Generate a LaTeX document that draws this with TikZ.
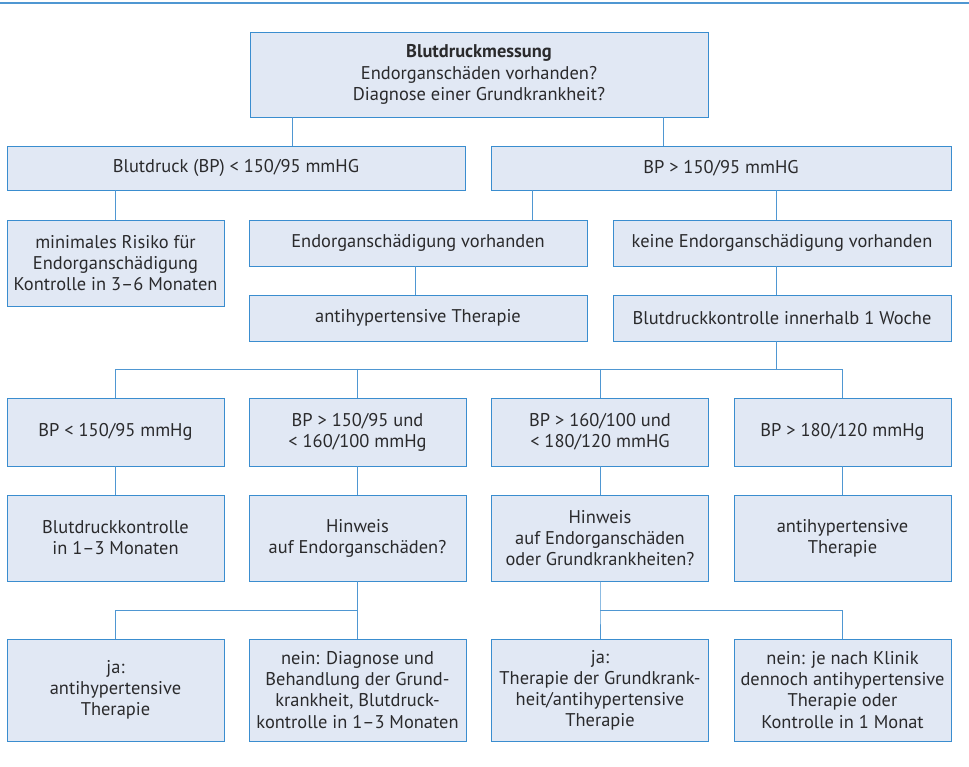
\documentclass[tikz,border=0pt]{standalone}
\usepackage{fontspec}
\setmainfont{PT Sans}
\definecolor{boxfill}{HTML}{E1E8F4}
\definecolor{boxline}{HTML}{3A8DCF}
\definecolor{linkline}{HTML}{4F97D2}
\definecolor{txt}{HTML}{2A2A2C}
\begin{document}
\begin{tikzpicture}[x=0.025cm, y=-0.025cm]
\tikzstyle{box}  = [rectangle, draw=boxline, fill=boxfill, line width=0.6pt, inner sep=0pt, align=center, text=txt, font=\fontsize{13.1}{15}\selectfont]
\tikzstyle{link} = [draw=linkline, line width=0.6pt]
\useasboundingbox (0,0) rectangle (969,767);
\draw[link, line width=0.8pt] (0,3) -- (969,3);
\node[box, minimum width=11.45cm, minimum height=2.125cm] at (479, 74.5) (0_s_0) {\textbf{Blutdruckmessung}\\Endorganschäden vorhanden?\\Diagnose einer Grundkrankheit?};
\node[box, minimum width=11.45cm, minimum height=1.1cm] at (236, 168) (1_s_0) {Blutdruck (BP) < 150/95 mmHG};
\node[box, minimum width=11.5cm, minimum height=1.1cm] at (721, 168) (1_s_1) {BP > 150/95 mmHG};
\node[box, minimum width=5.425cm, minimum height=2.15cm] at (115.5, 263) (2_s_0) {minimales Risiko für\\Endorganschädigung\\Kontrolle in 3–6 Monaten};
\node[box, minimum width=8.45cm, minimum height=1.15cm] at (418, 243) (2_s_1) {Endorganschädigung vorhanden};
\node[box, minimum width=8.45cm, minimum height=1.15cm] at (782, 243) (2_s_2) {keine Endorganschädigung vorhanden};
\node[box, minimum width=8.45cm, minimum height=1.15cm] at (418, 318) (3_s_0) {antihypertensive Therapie};
\node[box, minimum width=8.45cm, minimum height=1.15cm] at (782, 318) (3_s_1) {Blutdruckkontrolle innerhalb 1 Woche};
\node[box, minimum width=5.425cm, minimum height=1.7cm] at (115.5, 432) (4_s_0) {BP < 150/95 mmHg};
\node[box, minimum width=5.425cm, minimum height=1.7cm] at (357.5, 432) (4_s_1) {BP > 150/95 und\\< 160/100 mmHg};
\node[box, minimum width=5.425cm, minimum height=1.7cm] at (600, 432) (4_s_2) {BP > 160/100 und\\< 180/120 mmHG};
\node[box, minimum width=5.425cm, minimum height=1.7cm] at (842.5, 432) (4_s_3) {BP > 180/120 mmHg};
\node[box, minimum width=5.425cm, minimum height=2.15cm] at (115.5, 538) (5_s_0) {Blutdruckkontrolle\\in 1–3 Monaten};
\node[box, minimum width=5.425cm, minimum height=2.15cm] at (357.5, 538) (5_s_1) {Hinweis\\auf Endorganschäden?};
\node[box, minimum width=5.425cm, minimum height=2.15cm] at (600, 538) (5_s_2) {Hinweis\\auf Endorganschäden\\oder Grundkrankheiten?};
\node[box, minimum width=5.425cm, minimum height=2.15cm] at (842.5, 538) (5_s_3) {antihypertensive\\Therapie};
\node[box, minimum width=5.425cm, minimum height=2.55cm] at (115.5, 690) (6_s_0) {ja:\\antihypertensive\\Therapie};
\node[box, minimum width=5.425cm, minimum height=2.55cm] at (357.5, 690) (6_s_1) {nein: Diagnose und\\Behandlung der Grund-\\krankheit, Blutdruck-\\kontrolle in 1–3 Monaten};
\node[box, minimum width=5.425cm, minimum height=2.55cm] at (600, 690) (6_s_2) {ja:\\Therapie der Grundkrank-\\heit/antihypertensive\\Therapie};
\node[box, minimum width=5.425cm, minimum height=2.55cm] at (842.5, 690) (6_s_3) {nein: je nach Klinik\\dennoch antihypertensive\\Therapie oder\\Kontrolle in 1 Monat};
\coordinate (1_b_0) at (292, 146);
\coordinate (1_b_1) at (663, 146);
\coordinate (2_b_1) at (532, 220);
\coordinate (2_b_2) at (776, 220);
\coordinate (3_b_0) at (415, 295);
\coordinate (3_b_1) at (776, 295);
\coordinate (4_b_0) at (776, 369);
\coordinate (6_b_0) at (357.5, 610);
\coordinate (6_b_1) at (600, 610);
\draw[link] (0_s_0.south -| 1_b_0) -- (1_b_0);
\draw[link] (0_s_0.south -| 1_b_1) -- (1_b_1);
\draw[link] (1_s_0.south -| 2_s_0.north) -- (2_s_0.north);
\draw[link] (1_s_1.south -| 2_b_1) -- (2_b_1);
\draw[link] (1_s_1.south -| 2_b_2) -- (2_b_2);
\draw[link] (2_s_1.south -| 3_b_0) -- (3_b_0);
\draw[link] (2_s_2.south -| 3_b_1) -- (3_b_1);
\draw[link] (3_s_1.south -| 4_b_0) -- (4_b_0);
\draw[link] (4_s_0.north) -- (4_s_0.north |- 4_b_0) -- (4_s_3.north |- 4_b_0) -- (4_s_3.north);
\draw[link] (4_s_1.north |- 4_b_0) -- (4_s_1.north);
\draw[link] (4_s_2.north |- 4_b_0) -- (4_s_2.north);
\draw[link] (4_s_0.south) -- (5_s_0.north);
\draw[link] (4_s_1.south) -- (5_s_1.north);
\draw[link] (4_s_2.south) -- (5_s_2.north);
\draw[link] (4_s_3.south) -- (5_s_3.north);
\draw[link] (5_s_1.south) -- (6_b_0) -- (6_s_1.north);
\draw[link] (6_b_0) -| (6_s_0.north);
\draw[link] (5_s_2.south) -- (6_b_1) -- (6_s_2.north);
\draw[link] (6_b_1) -| (6_s_3.north);
\end{tikzpicture}
\end{document}
